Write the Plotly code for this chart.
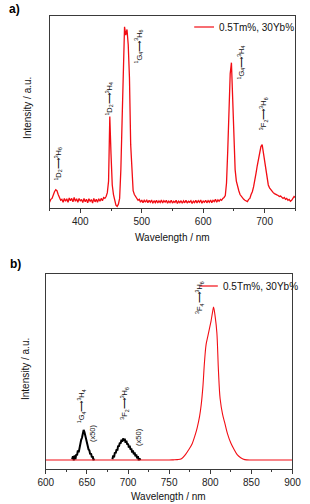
import plotly.graph_objects as go

# ---------------- Panel a data (wavelength, nm ; intensity, a.u.) ----------------
wl_a = list(range(350, 751, 2))
int_a = [
    0.030, 0.045, 0.050, 0.070, 0.085, 0.095, 0.090, 0.070, 0.050, 0.040,   # 350-368
    0.045, 0.030, 0.050, 0.035, 0.048, 0.030, 0.052, 0.038, 0.050, 0.032,   # 370-388
    0.055, 0.035, 0.048, 0.030, 0.050, 0.036, 0.045, 0.028, 0.050, 0.033,   # 390-408
    0.046, 0.027, 0.048, 0.035, 0.044, 0.026, 0.050, 0.032, 0.045, 0.030,   # 410-428
    0.048, 0.035, 0.050, 0.038, 0.055, 0.050, 0.060, 0.080, 0.140, 0.476,   # 430-448
    0.280, 0.120, 0.070, 0.035, 0.015, 0.008, 0.020, 0.050, 0.200, 0.450,   # 450-468
    0.780, 0.944, 0.900, 0.930, 0.850, 0.680, 0.330, 0.170, 0.090, 0.070,   # 470-488
    0.060, 0.050, 0.040, 0.045, 0.030, 0.042, 0.028, 0.040, 0.030, 0.043,   # 490-508
    0.027, 0.040, 0.030, 0.042, 0.025, 0.038, 0.028, 0.040, 0.026, 0.037,   # 510-528
    0.029, 0.042, 0.026, 0.038, 0.030, 0.040, 0.025, 0.036, 0.028, 0.040,   # 530-548
    0.026, 0.035, 0.029, 0.040, 0.024, 0.036, 0.028, 0.038, 0.025, 0.037,   # 550-568
    0.027, 0.040, 0.026, 0.035, 0.030, 0.038, 0.024, 0.036, 0.028, 0.040,   # 570-588
    0.026, 0.038, 0.030, 0.042, 0.025, 0.036, 0.030, 0.040, 0.027, 0.038,   # 590-608
    0.030, 0.042, 0.028, 0.040, 0.033, 0.045, 0.030, 0.042, 0.035, 0.045,   # 610-628
    0.040, 0.050, 0.055, 0.065, 0.130, 0.300, 0.520, 0.700, 0.757, 0.550,   # 630-648
    0.360, 0.200, 0.140, 0.110, 0.090, 0.070, 0.060, 0.050, 0.045, 0.040,   # 650-668
    0.035, 0.033, 0.045, 0.050, 0.070, 0.085, 0.110, 0.140, 0.180, 0.220,   # 670-688
    0.260, 0.290, 0.320, 0.330, 0.290, 0.250, 0.200, 0.150, 0.120, 0.105,   # 690-708
    0.095, 0.085, 0.080, 0.075, 0.070, 0.068, 0.065, 0.060, 0.062, 0.058,   # 710-728
    0.050, 0.055, 0.045, 0.050, 0.040, 0.045, 0.035, 0.040, 0.050, 0.060,   # 730-748
    0.055,                                                                  # 750
]

# ---------------- Panel b data ----------------
wl_b_red = [600, 610, 620, 630, 640, 650, 660, 670, 680, 690, 700, 710, 720, 730, 740,
            750, 755, 760, 765, 770, 774, 778, 781, 784, 787, 789, 791, 793, 795, 797,
            799, 801, 803, 804, 806, 808, 810, 812, 815, 818, 821, 825, 829, 833, 837,
            842, 850, 860, 870, 880, 890, 900]
int_b_red = [0.046, 0.046, 0.046, 0.046, 0.046, 0.046, 0.046, 0.046, 0.046, 0.046, 0.046,
             0.046, 0.046, 0.046, 0.046, 0.046, 0.047, 0.048, 0.053, 0.075, 0.100, 0.130,
             0.166, 0.210, 0.270, 0.330, 0.420, 0.550, 0.640, 0.680, 0.720, 0.760, 0.810,
             0.830, 0.780, 0.700, 0.500, 0.360, 0.280, 0.230, 0.180, 0.133, 0.100, 0.072,
             0.058, 0.048, 0.046, 0.046, 0.046, 0.046, 0.046, 0.046]

wl_b_k1 = list(range(632, 660))
int_b_k1 = [0.050, 0.065, 0.045, 0.070, 0.050, 0.075, 0.070, 0.095, 0.085, 0.110,
            0.120, 0.150, 0.160, 0.190, 0.200, 0.190, 0.170, 0.155, 0.130, 0.120,
            0.100, 0.095, 0.075, 0.080, 0.060, 0.065, 0.045, 0.055]
wl_b_k2 = list(range(681, 716))
int_b_k2 = [0.050, 0.070, 0.060, 0.085, 0.080, 0.100, 0.095, 0.120, 0.115, 0.135,
            0.130, 0.150, 0.140, 0.157, 0.145, 0.155, 0.135, 0.145, 0.125, 0.130,
            0.110, 0.120, 0.100, 0.105, 0.085, 0.095, 0.075, 0.085, 0.065, 0.075,
            0.055, 0.065, 0.045, 0.055, 0.045]

legend_text = "0.5Tm%, 30Yb%"
xticks_a = [400, 500, 600, 700]
xticks_b = [600, 650, 700, 750, 800, 850, 900]

W, H = 310, 504
RED = "#f20d14"
FONT = "Arial"
AX = "#3a3a3a"


def px(x):
    return x / W


def py(y):
    return 1 - y / H


fig = go.Figure()
fig.add_trace(go.Scatter(x=wl_a, y=int_a, mode="lines", line=dict(color=RED, width=1.3),
                         xaxis="x", yaxis="y", showlegend=False))
fig.add_trace(go.Scatter(x=wl_b_k1, y=int_b_k1, mode="lines", line=dict(color="black", width=2),
                         xaxis="x2", yaxis="y2", showlegend=False))
fig.add_trace(go.Scatter(x=wl_b_k2, y=int_b_k2, mode="lines", line=dict(color="black", width=2),
                         xaxis="x2", yaxis="y2", showlegend=False))
fig.add_trace(go.Scatter(x=wl_b_red, y=int_b_red, mode="lines", line=dict(color=RED, width=1.1),
                         line_shape="spline", xaxis="x2", yaxis="y2", showlegend=False))

xcommon = dict(showline=True, linecolor=AX, linewidth=1.3, mirror=True, ticks="outside",
               ticklen=4, tickwidth=1, tickcolor=AX, showgrid=False, zeroline=False,
               tickfont=dict(family=FONT, size=10, color="#222"),
               minor=dict(ticks="outside", ticklen=2, tickwidth=1, tickcolor=AX))
ycommon = dict(showline=True, linecolor=AX, linewidth=1.3, mirror=True, ticks="",
               showticklabels=False, showgrid=False, zeroline=False, range=[0, 1])

fig.update_layout(
    width=W, height=H, margin=dict(l=0, r=0, t=0, b=0),
    paper_bgcolor="white", plot_bgcolor="white",
    font=dict(family=FONT),
    xaxis=dict(xcommon, domain=[px(44), px(304)], range=[350, 750], tickvals=xticks_a,
               minor=dict(xcommon["minor"], dtick=50, tick0=350), anchor="y"),
    yaxis=dict(ycommon, domain=[py(208), py(16)], anchor="x"),
    xaxis2=dict(xcommon, domain=[px(40), px(301)], range=[600, 900], tickvals=xticks_b,
                minor=dict(xcommon["minor"], dtick=25, tick0=600), anchor="y2"),
    yaxis2=dict(ycommon, domain=[py(469), py(274)], anchor="x2"),
)

ann = []


def T(x, y, text, size=10, angle=0, bold=False, xanchor="center"):
    ann.append(dict(x=px(x), y=py(y), xref="paper", yref="paper", text=text, showarrow=False,
                    textangle=angle, xanchor=xanchor, yanchor="middle", borderpad=0,
                    font=dict(family=FONT, size=size, color="black" if bold else "#111")))


T(7, 9, "<b>a)</b>", size=12, bold=True)
T(8, 264, "<b>b)</b>", size=12, bold=True)
T(174, 237, "Wavelength / nm", size=10)
T(170, 496, "Wavelength / nm", size=10)
T(20, 108, "Intensity / a.u.", size=10, angle=-90)
T(18, 369, "Intensity / a.u.", size=10, angle=-90)

ARW = "⟶"
T(53.5, 164, "<sup>1</sup>D<sub>2</sub>" + ARW + "<sup>3</sup>H<sub>6</sub>", size=7.5, angle=-90)
T(107.5, 99, "<sup>1</sup>D<sub>2</sub>" + ARW + "<sup>3</sup>H<sub>4</sub>", size=7.5, angle=-90)
T(138, 46, "<sup>1</sup>G<sub>4</sub>" + ARW + "<sup>3</sup>H<sub>6</sub>", size=7.5, angle=-90)
T(246, 63, "<sup>1</sup>G<sub>4</sub>" + ARW + "<sup>3</sup>H<sub>4</sub>", size=7.5, angle=-90)
T(271, 114, "<sup>3</sup>F<sub>2</sub>" + ARW + "<sup>3</sup>H<sub>6</sub>", size=7.5, angle=-90)

T(202, 297, "<sup>3</sup>F<sub>4</sub>" + ARW + "<sup>3</sup>H<sub>6</sub>", size=7.5, angle=-90)
T(77.5, 406, "<sup>1</sup>G<sub>4</sub>" + ARW + "<sup>3</sup>H<sub>4</sub>", size=7.5, angle=-90)
T(89, 433, "(x50)", size=7.5, angle=-90)
T(122.5, 403, "<sup>3</sup>F<sub>2</sub>" + ARW + "<sup>3</sup>H<sub>6</sub>", size=7.5, angle=-90)
T(137.5, 437, "(x50)", size=7.5, angle=-90)

T(222, 27, legend_text, size=10, xanchor="left")
T(226, 286, legend_text, size=10, xanchor="left")

fig.update_layout(annotations=ann, shapes=[
    dict(type="line", xref="paper", yref="paper", x0=px(197), x1=px(218), y0=py(27), y1=py(27),
         line=dict(color=RED, width=1.2)),
    dict(type="line", xref="paper", yref="paper", x0=px(203), x1=px(222), y0=py(286), y1=py(286),
         line=dict(color=RED, width=1.2)),
])

fig.write_html("out.html", config={"displayModeBar": False},
               post_script="document.body.style.margin='0';document.body.style.overflow='hidden';")
